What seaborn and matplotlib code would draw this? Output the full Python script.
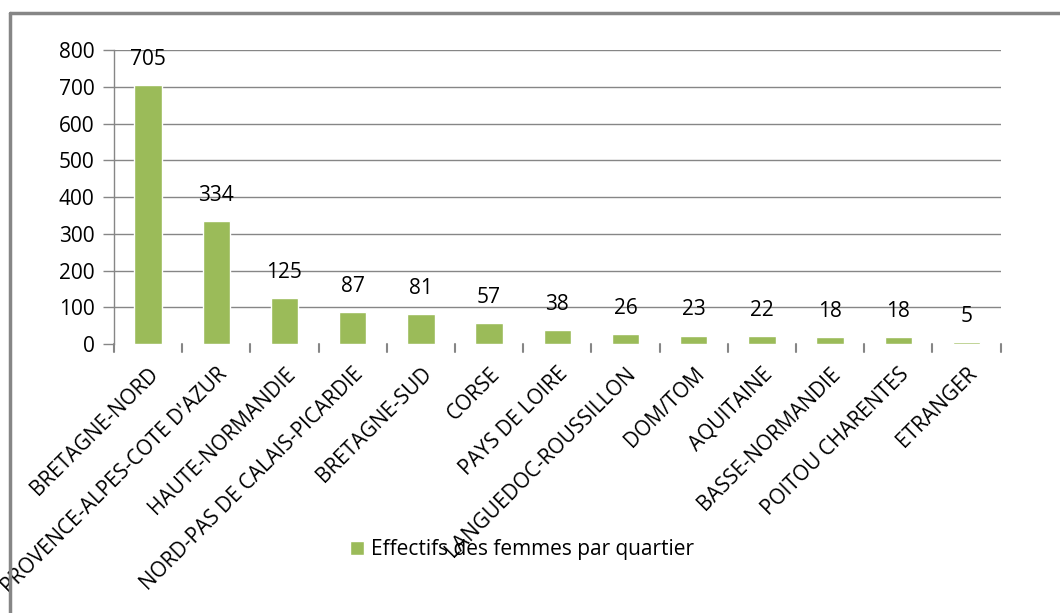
import matplotlib
matplotlib.use("Agg")
import matplotlib.pyplot as plt
import seaborn as sns
import pandas as pd
from matplotlib.lines import Line2D

categories = ["BRETAGNE-NORD", "PROVENCE-ALPES-COTE D'AZUR", "HAUTE-NORMANDIE",
              "NORD-PAS DE CALAIS-PICARDIE", "BRETAGNE-SUD", "CORSE", "PAYS DE LOIRE",
              "LANGUEDOC-ROUSSILLON", "DOM/TOM", "AQUITAINE", "BASSE-NORMANDIE",
              "POITOU CHARENTES", "ETRANGER"]
values = [705, 334, 125, 87, 81, 57, 38, 26, 23, 22, 18, 18, 5]
series_name = "Effectifs des femmes par quartier"
yticks = [0, 100, 200, 300, 400, 500, 600, 700, 800]

sns.set_theme(style="white")
plt.rcParams['font.family'] = ['Open Sans', 'DejaVu Sans']
plt.rcParams['text.color'] = 'black'
plt.rcParams['xtick.color'] = 'black'
plt.rcParams['ytick.color'] = 'black'

df = pd.DataFrame({"cat": categories, "val": values})
green = "#9BBB59"
grid_c = "#868686"
fs = 15

fig = plt.figure(figsize=(10.6, 6.13), dpi=100)
ax = fig.add_axes([0.1075, 0.4388, 0.8365, 0.4796])
sns.barplot(data=df, x="cat", y="val", color=green, width=0.4, ax=ax,
            label=series_name, saturation=1)

ax.set_xlim(-0.5, len(categories) - 0.5)
ax.set_ylim(0, 800)
ax.set_yticks(yticks)
ax.set_yticklabels([str(t) for t in yticks], fontsize=fs)
ax.set_xlabel("")
ax.set_ylabel("")
ax.yaxis.grid(True, color=grid_c, linewidth=1)
ax.yaxis.get_gridlines()[0].set_visible(False)
ax.set_axisbelow(True)
for s in ["top", "right", "bottom"]:
    ax.spines[s].set_visible(False)
ax.spines["left"].set_color(grid_c)
ax.spines["left"].set_linewidth(1)
ax.tick_params(axis="y", direction="out", length=8, color=grid_c, width=1, pad=6,
               left=True, labelcolor="black")

ax.set_xticks([i for i in range(len(categories))])
ax.set_xticklabels(categories, rotation=45, ha="right", rotation_mode="anchor",
                   fontsize=fs, color="black")
ax.tick_params(axis="x", length=0, pad=14)
for b in range(len(categories) + 1):
    ax.plot([b - 0.5, b - 0.5], [0, -0.028], transform=ax.get_xaxis_transform(),
            color=grid_c, linewidth=1.5, clip_on=False)

for i, v in enumerate(values):
    ax.annotate(str(v), (i, v), xytext=(0, 11), textcoords="offset points",
                ha="center", va="bottom", fontsize=fs, color="black")

leg = ax.legend(loc="center", bbox_to_anchor=(0.46, -0.70),
                frameon=False, fontsize=fs, handlelength=0.7, handleheight=0.7,
                handletextpad=0.3)
for t in leg.get_texts():
    t.set_color("black")

fig.add_artist(Line2D([0.0099, 1.0], [0.978, 0.978], color=grid_c, linewidth=2.5,
                      transform=fig.transFigure))
fig.add_artist(Line2D([0.0099, 0.0099], [0.0, 0.978], color=grid_c, linewidth=2.5,
                      transform=fig.transFigure))

fig.savefig("out.png", dpi=100)
